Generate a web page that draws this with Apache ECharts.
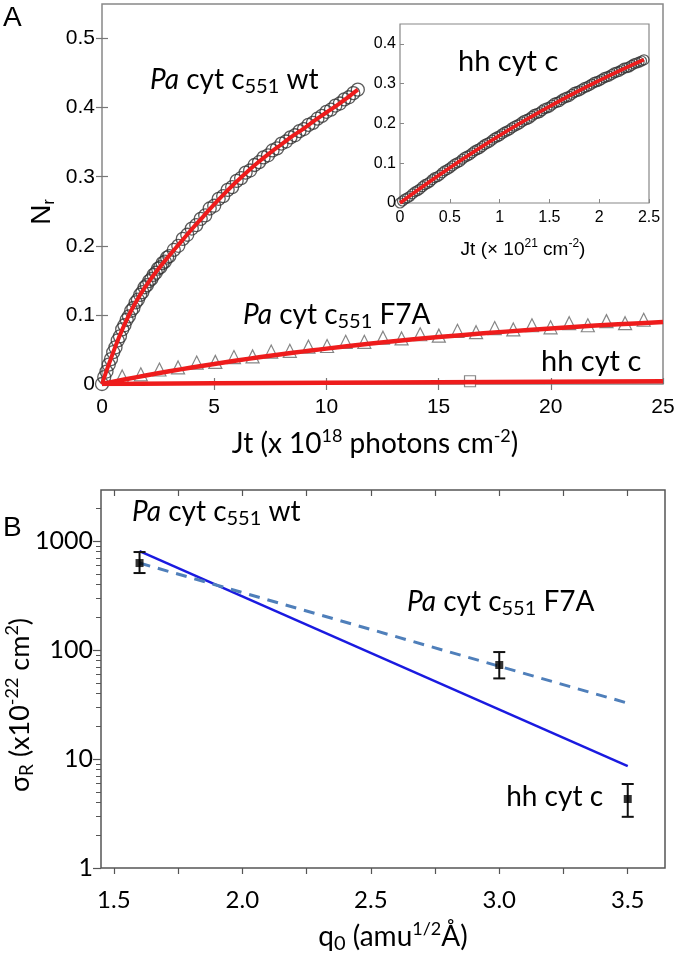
<!DOCTYPE html>
<html><head><meta charset="utf-8">
<script src="https://cdn.jsdelivr.net/npm/echarts@6/dist/echarts.min.js"></script>
<style>html,body{margin:0;padding:0;background:#fff}#c{width:679px;height:956px}</style>
</head><body><div id="c"></div>
<script>
// ---------- Panel A: main plot ----------
const wtX = [0,0.1,0.2,0.3,0.4,0.5,0.6,0.7,0.8,0.9,1.0,1.1,1.2,1.3,1.4,1.5,1.6,1.7,1.8,1.9,2.0,2.1,2.2,2.3,2.4,2.5,2.6,2.7,2.8,2.9,3.0,
  3.2,3.4,3.6,3.8,4.0,4.2,4.4,4.6,4.8,5.0,5.2,5.4,5.6,5.8,6.0,6.2,6.4,6.6,6.8,7.0,7.2,7.4,7.6,7.8,8.0,8.2,8.4,8.6,8.8,9.0,9.2,9.4,9.6,9.8,10.0,10.2,10.4,10.6,10.8,11.0,11.2,11.4];
const wtY = [0.000,0.010,0.018,0.028,0.036,0.046,0.053,0.063,0.069,0.079,0.085,0.093,0.098,0.106,0.110,0.118,0.122,0.129,0.133,0.140,0.143,0.149,0.152,0.158,0.161,0.167,0.169,0.175,0.177,0.183,0.185,
  0.194,0.200,0.210,0.216,0.225,0.230,0.239,0.244,0.254,0.258,0.268,0.272,0.281,0.285,0.294,0.298,0.306,0.309,0.317,0.321,0.328,0.331,0.338,0.341,0.348,0.351,0.357,0.360,0.366,0.369,0.375,0.378,0.384,0.388,0.394,0.397,0.403,0.406,0.412,0.415,0.421,0.426];
const wtFitX = [0,0.5,1,1.5,2,2.5,3,3.5,4,4.5,5,5.5,6,6.5,7,7.5,8,8.5,9,9.5,10,10.5,11,11.4];
const wtFitY = [0,0.046,0.086,0.118,0.144,0.166,0.186,0.205,0.224,0.242,0.260,0.277,0.293,0.308,0.322,0.335,0.347,0.359,0.370,0.382,0.393,0.404,0.416,0.426];

const f7aX = [0.9,1.73,2.56,3.39,4.22,5.05,5.88,6.71,7.54,8.37,9.2,10.03,10.86,11.69,12.52,13.35,14.18,15.01,15.84,16.67,17.5,18.33,19.16,19.99,20.82,21.65,22.48,23.31,24.14];
const f7aY = [0.011,0.014,0.021,0.024,0.031,0.032,0.039,0.040,0.047,0.048,0.054,0.055,0.061,0.061,0.067,0.066,0.072,0.070,0.077,0.075,0.081,0.079,0.085,0.082,0.088,0.085,0.091,0.088,0.093];
const f7aFitX = [0,1,2,3,4,5,6,7,8,9,10,12,14,16,18,20,22,24,25];
const f7aFitY = [0,0.0065,0.0126,0.0184,0.0239,0.0290,0.0340,0.0386,0.0430,0.0472,0.0512,0.0585,0.0650,0.0707,0.0758,0.0804,0.0845,0.0881,0.0898];

const hhX = [16.4];
const hhY = [0.004];
const hhFitX = [0,5,10,15,20,25];
const hhFitY = [0,0.001,0.0018,0.0026,0.0033,0.004];

// ---------- Panel A: inset ----------
const inX = [0,0.025,0.05,0.075,0.1,0.125,0.15,0.175,0.2,0.225,0.25,0.275,0.3,0.325,0.35,0.375,0.4,0.425,0.45,0.475,0.5,0.525,0.55,0.575,0.6,0.625,0.65,0.675,0.7,0.725,0.75,0.775,0.8,0.825,0.85,0.875,0.9,0.925,0.95,0.975,
  1.0,1.025,1.05,1.075,1.1,1.125,1.15,1.175,1.2,1.225,1.25,1.275,1.3,1.325,1.35,1.375,1.4,1.425,1.45,1.475,1.5,1.525,1.55,1.575,1.6,1.625,1.65,1.675,1.7,1.725,1.75,1.775,1.8,1.825,1.85,1.875,1.9,1.925,1.95,1.975,
  2.0,2.025,2.05,2.075,2.1,2.125,2.15,2.175,2.2,2.225,2.25,2.275,2.3,2.325,2.35,2.375,2.4,2.425,2.45];
const inY = [0.000,0.005,0.010,0.013,0.017,0.023,0.028,0.031,0.035,0.041,0.046,0.049,0.053,0.059,0.064,0.066,0.070,0.076,0.081,0.084,0.088,0.093,0.098,0.101,0.104,0.110,0.115,0.118,0.121,0.126,0.131,0.134,0.137,0.142,0.147,0.150,0.153,0.158,0.163,0.166,
  0.169,0.174,0.178,0.181,0.184,0.189,0.193,0.196,0.199,0.204,0.208,0.210,0.213,0.218,0.223,0.225,0.227,0.232,0.237,0.239,0.241,0.246,0.251,0.253,0.255,0.260,0.264,0.266,0.268,0.273,0.278,0.280,0.282,0.286,0.290,0.292,0.295,0.299,0.303,0.305,
  0.307,0.311,0.315,0.317,0.319,0.323,0.327,0.329,0.331,0.335,0.339,0.340,0.342,0.346,0.350,0.352,0.354,0.357,0.360];
const inFitX = [0,0.25,0.5,0.75,1,1.25,1.5,1.75,2,2.25,2.45];
const inFitY = [0,0.0453,0.0886,0.1300,0.1695,0.2070,0.2426,0.2763,0.3080,0.3378,0.3602];

// ---------- Panel B ----------
const bQ = [1.6, 3.0, 3.5];
const bSigma = [630, 73, 4.3];
const bLo = [510, 55, 2.95];
const bHi = [795, 96, 5.9];
const solidX = [1.6, 3.5];
const solidY = [810, 8.6];
const dashX = [1.6, 3.5];
const dashY = [630, 32.6];

const aXTicks = [0,5,10,15,20,25];
const aYTicks = [0,0.1,0.2,0.3,0.4,0.5];
const bXLabels = [1.5,2.0,2.5,3.0,3.5];
const bXTicks = [1.5,1.75,2.0,2.25,2.5,2.75,3.0,3.25,3.5];
const bYMajor = [1,10,100,1000];
const bYMinor = [2,3,4,5,6,7,8,9,20,30,40,50,60,70,80,90,200,300,400,500,600,700,800,900,2000];

const zip = (xs, ys) => xs.map((x, i) => [x, ys[i]]);

const ARIAL = "'Liberation Sans', Arial, sans-serif";
const CAL = "Lato, 'Open Sans', sans-serif";
const RED = '#ee1c1c';

function rt(size) {
  return {
    n: {fontFamily: CAL, fontSize: size, lineHeight: size + 6, verticalAlign: 'middle', fill: '#000'},
    i: {fontFamily: CAL, fontSize: size, fontStyle: 'italic', lineHeight: size + 6, verticalAlign: 'middle', fill: '#000'},
    sub: {fontFamily: CAL, fontSize: Math.round(size * 0.7), lineHeight: 10, verticalAlign: 'bottom', fill: '#000'},
    sup: {fontFamily: CAL, fontSize: Math.round(size * 0.65), lineHeight: 10, verticalAlign: 'top', fill: '#000'}
  };
}
function txt(x, y, text, size, opts) {
  opts = opts || {};
  return {
    type: 'text', x: x, y: y, rotation: opts.rot || 0, z: 100,
    style: Object.assign({text: text, rich: opts.rich || rt(size), align: opts.align || 'left', verticalAlign: 'middle',
      fontFamily: CAL, fontSize: size, fill: '#000'}, opts.style || {})
  };
}
const fmtTenth = v => (Math.abs(v * 10 - Math.round(v * 10)) < 1e-6 ? String(+v.toFixed(1)) : '');

const chart = echarts.init(document.getElementById('c'), null, {renderer: 'canvas'});

const axisLab = (size, fam, extra) => Object.assign({fontFamily: fam, fontSize: size, color: '#000'}, extra || {});

const option = {
  animation: false,
  backgroundColor: '#fff',
  grid: [
    {left: 102, top: 4, width: 561, height: 380, show: true, borderColor: '#888', borderWidth: 1.5, backgroundColor: 'rgba(0,0,0,0)'},
    {left: 400, top: 24, width: 249, height: 179, show: true, borderColor: '#888', borderWidth: 1.2, backgroundColor: '#fff'},
    {left: 101, top: 490, width: 564, height: 378, show: true, borderColor: '#555', borderWidth: 1.5, backgroundColor: 'rgba(0,0,0,0)'}
  ],
  xAxis: [
    {gridIndex: 0, type: 'value', min: 0, max: 25, interval: 5, position: 'bottom',
      axisLine: {show: false}, splitLine: {show: false},
      axisTick: {inside: true, length: 6, lineStyle: {color: '#777', width: 1.2}},
      axisLabel: axisLab(21, ARIAL, {margin: 13})},
    {gridIndex: 0, type: 'value', min: 0, max: 25, position: 'top',
      axisLine: {show: false}, splitLine: {show: false},
      axisTick: {inside: true, length: 6, customValues: [5,10,15,20], lineStyle: {color: '#777', width: 1.2}},
      axisLabel: {show: false}},
    {gridIndex: 1, type: 'value', min: 0, max: 2.5, interval: 0.5, position: 'bottom',
      axisLine: {show: false}, splitLine: {show: false},
      axisTick: {inside: true, length: 4, lineStyle: {color: '#888'}},
      axisLabel: axisLab(16, ARIAL, {margin: 7})},
    {gridIndex: 2, type: 'value', min: 1.45, max: 3.645, position: 'bottom',
      axisLine: {show: false}, splitLine: {show: false},
      axisTick: {inside: false, length: 6, customValues: bXTicks, lineStyle: {color: '#555', width: 1.2}},
      axisLabel: axisLab(24, CAL, {margin: 20, customValues: bXLabels, formatter: v => Number(v).toFixed(1)})},
    {gridIndex: 2, type: 'value', min: 1.45, max: 3.645, position: 'top',
      axisLine: {show: false}, splitLine: {show: false},
      axisTick: {inside: true, length: 6, customValues: bXTicks, lineStyle: {color: '#555', width: 1.2}},
      axisLabel: {show: false}}
  ],
  yAxis: [
    {gridIndex: 0, type: 'value', min: 0, max: 0.55, interval: 0.1, position: 'left',
      axisLine: {show: false}, splitLine: {show: false},
      axisTick: {inside: true, length: 6, lineStyle: {color: '#777', width: 1.2}},
      axisLabel: axisLab(21, ARIAL, {margin: 7, showMaxLabel: false, formatter: fmtTenth})},
    {gridIndex: 0, type: 'value', min: 0, max: 0.55, position: 'right',
      axisLine: {show: false}, splitLine: {show: false},
      axisTick: {inside: true, length: 6, customValues: [0.1,0.2,0.3,0.4,0.5], lineStyle: {color: '#777', width: 1.2}},
      axisLabel: {show: false}},
    {gridIndex: 1, type: 'value', min: 0, max: 0.45, interval: 0.1, position: 'left',
      axisLine: {show: false}, splitLine: {show: false},
      axisTick: {inside: true, length: 4, lineStyle: {color: '#888'}},
      axisLabel: axisLab(16, ARIAL, {margin: 4, showMaxLabel: false, formatter: fmtTenth})},
    {gridIndex: 2, type: 'log', logBase: 10, min: 1, max: 2950, position: 'left',
      axisLine: {show: false}, splitLine: {show: false},
      axisTick: {inside: false, length: 8, customValues: bYMajor, lineStyle: {color: '#555', width: 1.2}},
      axisLabel: axisLab(25, CAL, {margin: 8, customValues: bYMajor, formatter: v => String(Math.round(v))})},
    {gridIndex: 2, type: 'log', logBase: 10, min: 1, max: 2950, position: 'left',
      axisLine: {show: false}, splitLine: {show: false},
      axisTick: {inside: false, length: 5, customValues: bYMinor, lineStyle: {color: '#555', width: 1}},
      axisLabel: {show: false}}
  ],
  series: [
    {type: 'scatter', xAxisIndex: 0, yAxisIndex: 0, data: zip(wtX, wtY), symbol: 'circle', symbolSize: 13,
      itemStyle: {color: 'rgba(255,255,255,0)', borderColor: '#333', borderWidth: 1.3}, z: 2},
    {type: 'scatter', xAxisIndex: 0, yAxisIndex: 0, data: zip(f7aX, f7aY), symbol: 'triangle', symbolSize: 13,
      itemStyle: {color: '#fff', borderColor: '#666', borderWidth: 1.2}, z: 2},
    {type: 'scatter', xAxisIndex: 0, yAxisIndex: 0, data: zip(hhX, hhY), symbol: 'rect', symbolSize: 11,
      itemStyle: {color: '#fff', borderColor: '#666', borderWidth: 1.2}, z: 2},
    {type: 'line', xAxisIndex: 0, yAxisIndex: 0, data: zip(wtFitX, wtFitY), smooth: true, showSymbol: false,
      lineStyle: {color: RED, width: 4}, z: 3},
    {type: 'line', xAxisIndex: 0, yAxisIndex: 0, data: zip(f7aFitX, f7aFitY), smooth: true, showSymbol: false,
      lineStyle: {color: RED, width: 4.5}, z: 3},
    {type: 'line', xAxisIndex: 0, yAxisIndex: 0, data: zip(hhFitX, hhFitY), smooth: true, showSymbol: false,
      lineStyle: {color: RED, width: 4.5}, z: 3},
    {type: 'scatter', xAxisIndex: 2, yAxisIndex: 2, data: zip(inX, inY), symbol: 'circle', symbolSize: 10,
      itemStyle: {color: 'rgba(255,255,255,0)', borderColor: '#333', borderWidth: 1.2}, z: 4},
    {type: 'line', xAxisIndex: 2, yAxisIndex: 2, data: zip(inFitX, inFitY), smooth: true, showSymbol: false,
      lineStyle: {color: RED, width: 3.5}, z: 5},
    {type: 'line', xAxisIndex: 3, yAxisIndex: 3, data: zip(solidX, solidY), showSymbol: false,
      lineStyle: {color: '#1a1ae0', width: 2.5}, z: 3},
    {type: 'line', xAxisIndex: 3, yAxisIndex: 3, data: zip(dashX, dashY), showSymbol: false,
      lineStyle: {color: '#4f7fba', width: 3, type: [11, 8]}, z: 3},
    {type: 'custom', xAxisIndex: 3, yAxisIndex: 3, data: bQ.map((q, i) => [q, bLo[i], bHi[i]]),
      encode: {x: 0, y: [1, 2]}, z: 4,
      renderItem: function (params, api) {
        const x = api.value(0);
        const p1 = api.coord([x, api.value(1)]);
        const p2 = api.coord([x, api.value(2)]);
        const w = 6;
        const st = {stroke: '#111', lineWidth: 2};
        return {type: 'group', children: [
          {type: 'line', shape: {x1: p1[0], y1: p1[1], x2: p2[0], y2: p2[1]}, style: st},
          {type: 'line', shape: {x1: p1[0] - w, y1: p1[1], x2: p1[0] + w, y2: p1[1]}, style: st},
          {type: 'line', shape: {x1: p2[0] - w, y1: p2[1], x2: p2[0] + w, y2: p2[1]}, style: st}
        ]};
      }},
    {type: 'scatter', xAxisIndex: 3, yAxisIndex: 3, data: zip(bQ, bSigma), symbol: 'rect', symbolSize: 8,
      itemStyle: {color: '#000'}, z: 5}
  ],
  graphic: [
    {type: 'text', x: 3, y: 18, z: 100, style: {text: 'A', fontFamily: ARIAL, fontSize: 28, fill: '#000', align: 'left', verticalAlign: 'middle'}},
    {type: 'text', x: 3, y: 528, z: 100, style: {text: 'B', fontFamily: ARIAL, fontSize: 28, fill: '#000', align: 'left', verticalAlign: 'middle'}},
    // Panel A annotations
    txt(150, 80, '{i|Pa}{n| cyt c}{sub|551}{n| wt}', 28),
    txt(243, 315, '{i|Pa}{n| cyt c}{sub|551}{n| F7A}', 28),
    txt(541, 362, '{n|hh cyt c}', 29),
    txt(458, 62, '{n|hh cyt c}', 29),
    // Panel A axis titles
    txt(375, 444, '{n|Jt (x 10}{sup|18}{n| photons cm}{sup|-2}{n|)}', 28, {align: 'center'}),
    {type: 'text', x: 42, y: 212, rotation: Math.PI / 2, z: 100,
      style: {text: '{a|N}{b|r}', align: 'center', verticalAlign: 'middle',
        rich: {a: {fontFamily: ARIAL, fontSize: 28, lineHeight: 32, verticalAlign: 'middle', fill: '#000'},
               b: {fontFamily: ARIAL, fontSize: 16, lineHeight: 8, verticalAlign: 'bottom', fill: '#000'}}}},
    txt(523, 250, '{a|Jt (× 10}{s|21}{a| cm}{s|-2}{a|)}', 19, {align: 'center', rich: {
      a: {fontFamily: ARIAL, fontSize: 19, lineHeight: 24, verticalAlign: 'middle', fill: '#000'},
      s: {fontFamily: ARIAL, fontSize: 12, lineHeight: 8, verticalAlign: 'top', fill: '#000'}}}),
    // Panel B annotations
    txt(132, 512, '{i|Pa}{n| cyt c}{sub|551}{n| wt}', 28),
    txt(407, 602, '{i|Pa}{n| cyt c}{sub|551}{n| F7A}', 28),
    txt(603, 797, '{n|hh cyt c}', 28, {align: 'right'}),
    // Panel B axis titles
    txt(393, 937, '{n|q}{sub|0}{n| (amu}{sup|1/2}{n|Å)}', 28, {align: 'center'}),
    txt(20, 705, '{n|σ}{sub|R}{n| (x10}{sup|-22}{n| cm}{sup|2}{n|)}', 27, {align: 'center', rot: Math.PI / 2})
  ]
};
chart.setOption(option);
</script>
</body></html>
